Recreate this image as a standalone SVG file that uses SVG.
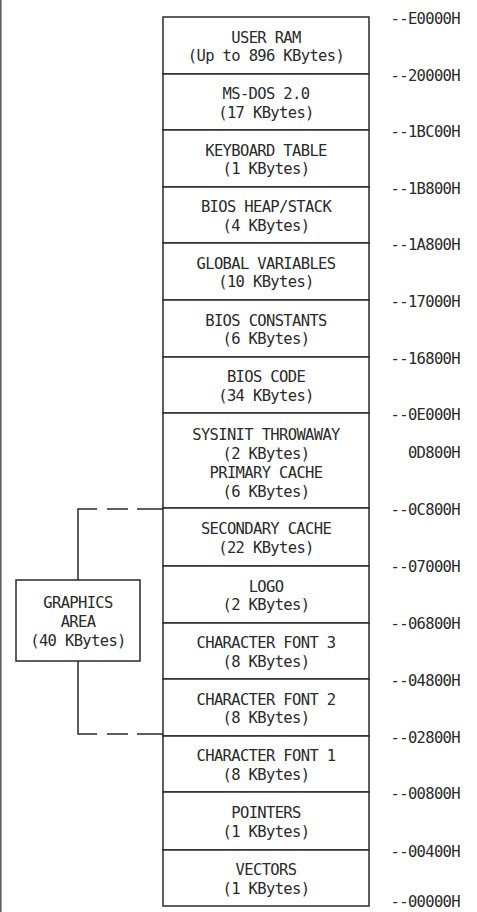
<svg xmlns="http://www.w3.org/2000/svg" width="477" height="912" viewBox="0 0 477 912">
<style>
rect{fill:#fff;stroke:#2a2a2a;stroke-width:1.5}
text{font-family:"DejaVu Sans Mono","Liberation Mono",monospace;font-size:15.5px;letter-spacing:-0.65px;fill:#2a2a2a}
.c{text-anchor:middle}
.a{text-anchor:end}
.ln{fill:none;stroke:#2a2a2a;stroke-width:1.5}
</style>
<rect x="0" y="0" width="477" height="912" style="stroke:none"/>
<line x1="0.8" y1="0" x2="0.8" y2="912" style="stroke:#555;stroke-width:1.5"/>
<g id="user-ram"><rect x="163" y="17" width="206" height="57"/><text class="c" x="266" y="43">USER RAM</text><text class="c" x="266" y="61">(Up to 896 KBytes)</text></g>
<g id="msdos"><rect x="163" y="74" width="206" height="56"/><text class="c" x="266" y="99">MS-DOS 2.0</text><text class="c" x="266" y="117.5">(17 KBytes)</text></g>
<g id="keyboard-table"><rect x="163" y="130" width="206" height="57"/><text class="c" x="266" y="155.5">KEYBOARD TABLE</text><text class="c" x="266" y="174">(1 KBytes)</text></g>
<g id="bios-heap"><rect x="163" y="187" width="206" height="56"/><text class="c" x="266" y="212">BIOS HEAP/STACK</text><text class="c" x="266" y="230.5">(4 KBytes)</text></g>
<g id="global-variables"><rect x="163" y="243" width="206" height="57"/><text class="c" x="266" y="268.5">GLOBAL VARIABLES</text><text class="c" x="266" y="287">(10 KBytes)</text></g>
<g id="bios-constants"><rect x="163" y="300" width="206" height="57"/><text class="c" x="266" y="325.5">BIOS CONSTANTS</text><text class="c" x="266" y="344">(6 KBytes)</text></g>
<g id="bios-code"><rect x="163" y="357" width="206" height="56"/><text class="c" x="266" y="382">BIOS CODE</text><text class="c" x="266" y="400.5">(34 KBytes)</text></g>
<g id="sysinit"><rect x="163" y="413" width="206" height="95"/><text class="c" x="266" y="440">SYSINIT THROWAWAY</text><text class="c" x="266" y="459">(2 KBytes)</text><text class="c" x="266" y="478">PRIMARY CACHE</text><text class="c" x="266" y="497">(6 KBytes)</text></g>
<g id="secondary-cache"><rect x="163" y="508" width="206" height="58"/><text class="c" x="266" y="534">SECONDARY CACHE</text><text class="c" x="266" y="552.5">(22 KBytes)</text></g>
<g id="logo"><rect x="163" y="566" width="206" height="57"/><text class="c" x="266" y="591.5">LOGO</text><text class="c" x="266" y="610">(2 KBytes)</text></g>
<g id="char-font-3"><rect x="163" y="623" width="206" height="56"/><text class="c" x="266" y="648">CHARACTER FONT 3</text><text class="c" x="266" y="666.5">(8 KBytes)</text></g>
<g id="char-font-2"><rect x="163" y="679" width="206" height="57"/><text class="c" x="266" y="704.5">CHARACTER FONT 2</text><text class="c" x="266" y="723">(8 KBytes)</text></g>
<g id="char-font-1"><rect x="163" y="736" width="206" height="56"/><text class="c" x="266" y="761">CHARACTER FONT 1</text><text class="c" x="266" y="779.5">(8 KBytes)</text></g>
<g id="pointers"><rect x="163" y="792" width="206" height="58"/><text class="c" x="266" y="818">POINTERS</text><text class="c" x="266" y="836.5">(1 KBytes)</text></g>
<g id="vectors"><rect x="163" y="850" width="206" height="56"/><text class="c" x="266" y="875">VECTORS</text><text class="c" x="266" y="893.5">(1 KBytes)</text></g>
<g id="graphics-area"><rect x="16" y="580" width="124" height="81"/><text class="c" x="78" y="608">GRAPHICS</text><text class="c" x="78" y="627">AREA</text><text class="c" x="78" y="646">(40 KBytes)</text></g>
<g id="connectors">
<path class="ln" d="M78 580 V509 H97 M107 509 H128 M137 509 H163"/>
<path class="ln" d="M78 661 V734 H97 M107 734 H128 M137 734 H163"/>
</g>
<g id="addresses">
<text class="a" x="460" y="23.5">--E0000H</text>
<text class="a" x="460" y="80.5">--20000H</text>
<text class="a" x="460" y="137">--1BC00H</text>
<text class="a" x="460" y="193.5">--1B800H</text>
<text class="a" x="460" y="249.5">--1A800H</text>
<text class="a" x="460" y="307">--17000H</text>
<text class="a" x="460" y="364">--16800H</text>
<text class="a" x="460" y="420">--0E000H</text>
<text class="a" x="460" y="458">0D800H</text>
<text class="a" x="460" y="515">--0C800H</text>
<text class="a" x="460" y="572">--07000H</text>
<text class="a" x="460" y="629">--06800H</text>
<text class="a" x="460" y="685.5">--04800H</text>
<text class="a" x="460" y="743">--02800H</text>
<text class="a" x="460" y="799">--00800H</text>
<text class="a" x="460" y="856.5">--00400H</text>
<text class="a" x="460" y="907">--00000H</text>
</g>
</svg>
